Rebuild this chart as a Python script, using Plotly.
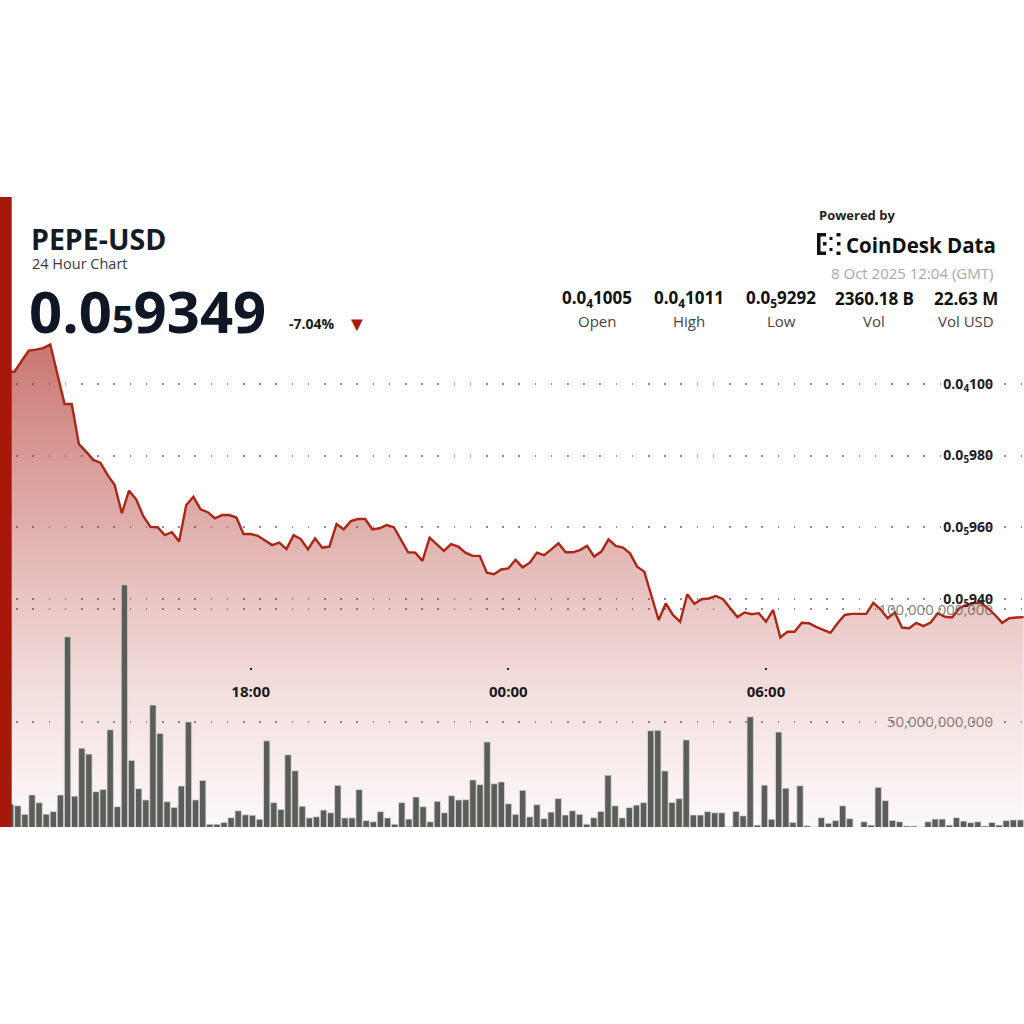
import pandas as pd
import plotly.graph_objects as go

# ---------------- data ----------------
# price in units of 1e-8 USD  (1000 -> 0.0₄100 = 0.00001000 USD)
price = [1003.4, 1003.4, 1003.4, 1006.4, 1009.3, 1009.6, 1010.0, 1011.0, 1003.1, 994.4,
         994.4, 983.2, 981.1, 978.8, 978.0, 974.6, 971.8, 963.9, 970.2, 967.8,
         963.1, 960.1, 960.0, 957.8, 958.6, 956.0, 966.2, 968.5, 965.0, 964.2,
         962.5, 963.4, 963.4, 962.7, 958.1, 958.1, 957.6, 956.3, 955.0, 955.7,
         953.9, 957.8, 956.7, 953.8, 956.9, 954.3, 954.6, 960.9, 959.4, 961.7,
         962.3, 962.3, 959.4, 959.7, 960.6, 960.0, 956.4, 953.0, 952.9, 950.6,
         957.1, 955.2, 953.4, 955.3, 954.6, 952.9, 952.0, 952.0, 947.3, 946.9,
         948.2, 948.5, 950.9, 948.8, 950.1, 952.9, 952.2, 953.8, 955.5, 953.0,
         953.0, 953.6, 954.8, 951.8, 953.2, 956.6, 954.8, 954.3, 952.7, 949.0,
         947.6, 940.8, 934.1, 938.7, 935.5, 933.6, 941.3, 938.6, 939.9, 940.1,
         940.8, 939.9, 937.4, 934.9, 936.2, 935.7, 936.0, 933.6, 936.9, 929.2,
         930.8, 930.8, 933.3, 933.2, 932.2, 931.3, 930.5, 933.2, 935.5, 935.8,
         935.8, 935.8, 938.9, 937.1, 934.6, 936.2, 932.0, 931.8, 933.3, 932.4,
         933.4, 936.0, 935.0, 934.8, 937.4, 938.3, 938.8, 938.9, 937.4, 935.5,
         933.3, 934.6, 934.8, 934.9]

# volume per 10-minute interval, billions of PEPE
volume_b = [12.0, 13.3, 12.6, 8.8, 17.4, 14.0, 8.9, 10.0, 17.4, 87.8,
            16.9, 38.2, 35.6, 18.9, 19.9, 46.4, 12.2, 110.9, 32.8, 20.2,
            15.2, 57.4, 44.8, 14.4, 11.9, 21.4, 49.9, 15.2, 23.9, 4.4,
            4.4, 5.2, 7.3, 10.4, 8.6, 8.4, 6.6, 41.5, 14.0, 11.0,
            35.3, 28.2, 12.4, 7.2, 7.7, 10.7, 9.5, 21.7, 7.2, 7.2,
            19.8, 6.0, 5.5, 10.0, 7.2, 4.4, 14.0, 6.7, 16.5, 12.2,
            5.5, 14.6, 9.5, 17.1, 15.2, 15.3, 24.1, 22.0, 41.0, 22.4,
            23.2, 13.5, 8.8, 19.5, 7.7, 13.1, 6.9, 9.8, 15.8, 8.5,
            10.4, 8.8, 4.4, 7.3, 10.1, 26.2, 12.6, 7.2, 11.8, 12.9,
            14.0, 46.0, 46.2, 28.1, 14.1, 15.8, 41.9, 8.5, 8.5, 10.0,
            9.5, 9.5, 3.3, 10.1, 8.1, 52.2, 4.0, 21.8, 6.6, 45.4,
            20.4, 5.2, 21.5, 3.7, 3.2, 7.3, 4.8, 6.0, 12.6, 6.9,
            2.0, 5.5, 4.0, 20.8, 14.9, 6.1, 5.5, 3.6, 3.6, 3.2,
            5.5, 6.7, 6.7, 4.0, 7.3, 5.8, 5.1, 5.5, 3.6, 5.2,
            4.0, 6.0, 6.3, 6.3]

price_times = pd.date_range("2025-10-07 12:10", periods=len(price), freq="10min")
bar_times = pd.date_range("2025-10-07 12:15", periods=len(volume_b), freq="10min")

price_tickvals = [940, 960, 980, 1000]
price_ticktext = ["0.0<sub>5</sub>940", "0.0<sub>5</sub>960", "0.0<sub>5</sub>980", "0.0<sub>4</sub>100"]
vol_tickvals = [50e9, 100e9]
vol_ticktext = ["50,000,000,000", "100,000,000,000"]
time_tickvals = ["2025-10-07 18:00", "2025-10-08 00:00", "2025-10-08 06:00", "2025-10-08 12:00"]
time_ticktext = ["18:00", "00:00", "06:00", "12:00"]

stat_values = ["0.0<sub>4</sub>1005", "0.0<sub>4</sub>1011", "0.0<sub>5</sub>9292", "2360.18 B", "22.63 M"]
stat_labels = ["Open", "High", "Low", "Vol", "Vol USD"]
stat_x = [597, 689, 781, 874, 966]

FONT = "Open Sans, Noto Sans, sans-serif"
RED = "#a8180a"

W, TOP, BOT = 1024, 197, 827


def px(x):
    return x / W


def py(y):
    return (BOT - y) / (BOT - TOP)


fig = go.Figure()

# price area + line
fig.add_trace(go.Scatter(
    x=price_times, y=price, mode="lines",
    line=dict(color="#ac2616", width=2.4),
    fill="tozeroy",
    fillgradient=dict(type="vertical", start=876.3, stop=1011,
                      colorscale=[[0, "rgba(172,42,34,0.03)"],
                                  [0.26, "rgba(172,42,34,0.14)"],
                                  [0.47, "rgba(172,42,34,0.27)"],
                                  [0.78, "rgba(172,42,34,0.48)"],
                                  [1, "rgba(172,42,34,0.64)"]]),
    xaxis="x", yaxis="y", hoverinfo="skip", showlegend=False))

# volume bars
fig.add_trace(go.Bar(
    x=bar_times, y=[v * 1e9 for v in volume_b],
    marker=dict(color="#5b5e58", line=dict(color="rgba(225,225,225,0.9)", width=0.8)),
    xaxis="x2", yaxis="y2", hoverinfo="skip", showlegend=False))

grid = dict(showgrid=True, gridcolor="#8c8c8c", gridwidth=1.5, griddash="1.5px,14.7px")

fig.update_layout(
    width=1024, height=1024,
    margin=dict(l=0, r=0, t=TOP, b=1024 - BOT),
    paper_bgcolor="white", plot_bgcolor="white",
    font=dict(family=FONT),
    bargap=0.1,
    showlegend=False,
    xaxis=dict(type="date",
               range=["2025-10-07 12:09:46", "2025-10-08 12:00:30"],
               tickvals=time_tickvals, ticktext=time_ticktext,
               showgrid=False, zeroline=False, showline=False,
               ticks="outside", ticklen=2, tickwidth=2, tickcolor="#222",
               tickfont=dict(size=15, color="#1a1a1a", family=FONT, weight="bold"),
               anchor="free", position=py(667), ticklabelstandoff=9),
    yaxis=dict(range=[876.3, 1052.2], side="right",
               tickvals=price_tickvals, ticktext=price_ticktext,
               ticks="", ticklabelposition="inside", ticklabelstandoff=28,
               tickfont=dict(size=14, color="#1c1c28", family=FONT, weight="bold"),
               zeroline=False, showline=False, **grid),
    xaxis2=dict(type="date", overlaying="x", visible=False,
                range=["2025-10-07 12:10", "2025-10-08 12:10"]),
    yaxis2=dict(overlaying="y", anchor="x2", side="right",
                range=[3.16e9, 283.4e9],
                tickvals=vol_tickvals, ticktext=vol_ticktext,
                ticks="", ticklabelposition="inside", ticklabelstandoff=28,
                tickfont=dict(size=15, color="rgba(105,100,95,0.85)", family=FONT),
                zeroline=False, showline=False, **grid),
)

ann = []


def text(x, y, s, size, color="#111", bold=False, xanchor="left"):
    ann.append(dict(x=px(x), y=py(y), xref="paper", yref="paper", text=s,
                    showarrow=False, xanchor=xanchor, yanchor="middle",
                    font=dict(size=size, color=color, family=FONT,
                              weight="bold" if bold else "normal")))


text(29, 239, "PEPE-USD", 28.5, "#141a26", True)
text(30, 263, "24 Hour Chart", 14.5, "#3a3a3a")
text(27, 310, '0.0<span style="font-size:38px">5</span>9349', 58, "#0f1624", True)
text(287, 323, "-7.04%", 14, "#1a1a1a", True)
text(345, 323, "▼", 20, RED)

text(817, 215, "Powered by", 13, "#222", True)
text(844, 245, "CoinDesk Data", 20.5, "#111", True)
text(995, 273, "8 Oct 2025 12:04 (GMT)", 15, "#a8a8a8", xanchor="right")
for xv, val, lab in zip(stat_x, stat_values, stat_labels):
    text(xv, 298, val, 17, "#111", True, xanchor="center")
    text(xv, 321, lab, 15, "#444", xanchor="center")

fig.update_layout(annotations=ann)

shapes = []


def rect(x0, y0, x1, y1, color):
    shapes.append(dict(type="rect", xref="paper", yref="paper",
                       x0=px(x0), x1=px(x1), y0=py(y1), y1=py(y0),
                       fillcolor=color, line=dict(width=0), layer="above"))


# left red brand bar
rect(0, TOP, 11.7, BOT, RED)
# CoinDesk logo mark (approximation)
rect(817, 233, 820.5, 255, "#111")
rect(817, 233, 826, 236.5, "#111")
rect(817, 251.5, 826, 255, "#111")
rect(823, 242, 826.5, 245.5, "#111")
rect(829.5, 237, 832.5, 240, "#111")
rect(829.5, 248, 832.5, 251, "#111")
rect(836.5, 233, 840.5, 236.5, "#111")
rect(836.5, 251.5, 840.5, 255, "#111")
rect(837, 242, 840.5, 245.5, "#111")
fig.update_layout(shapes=shapes)

fig.write_html("out.html")
